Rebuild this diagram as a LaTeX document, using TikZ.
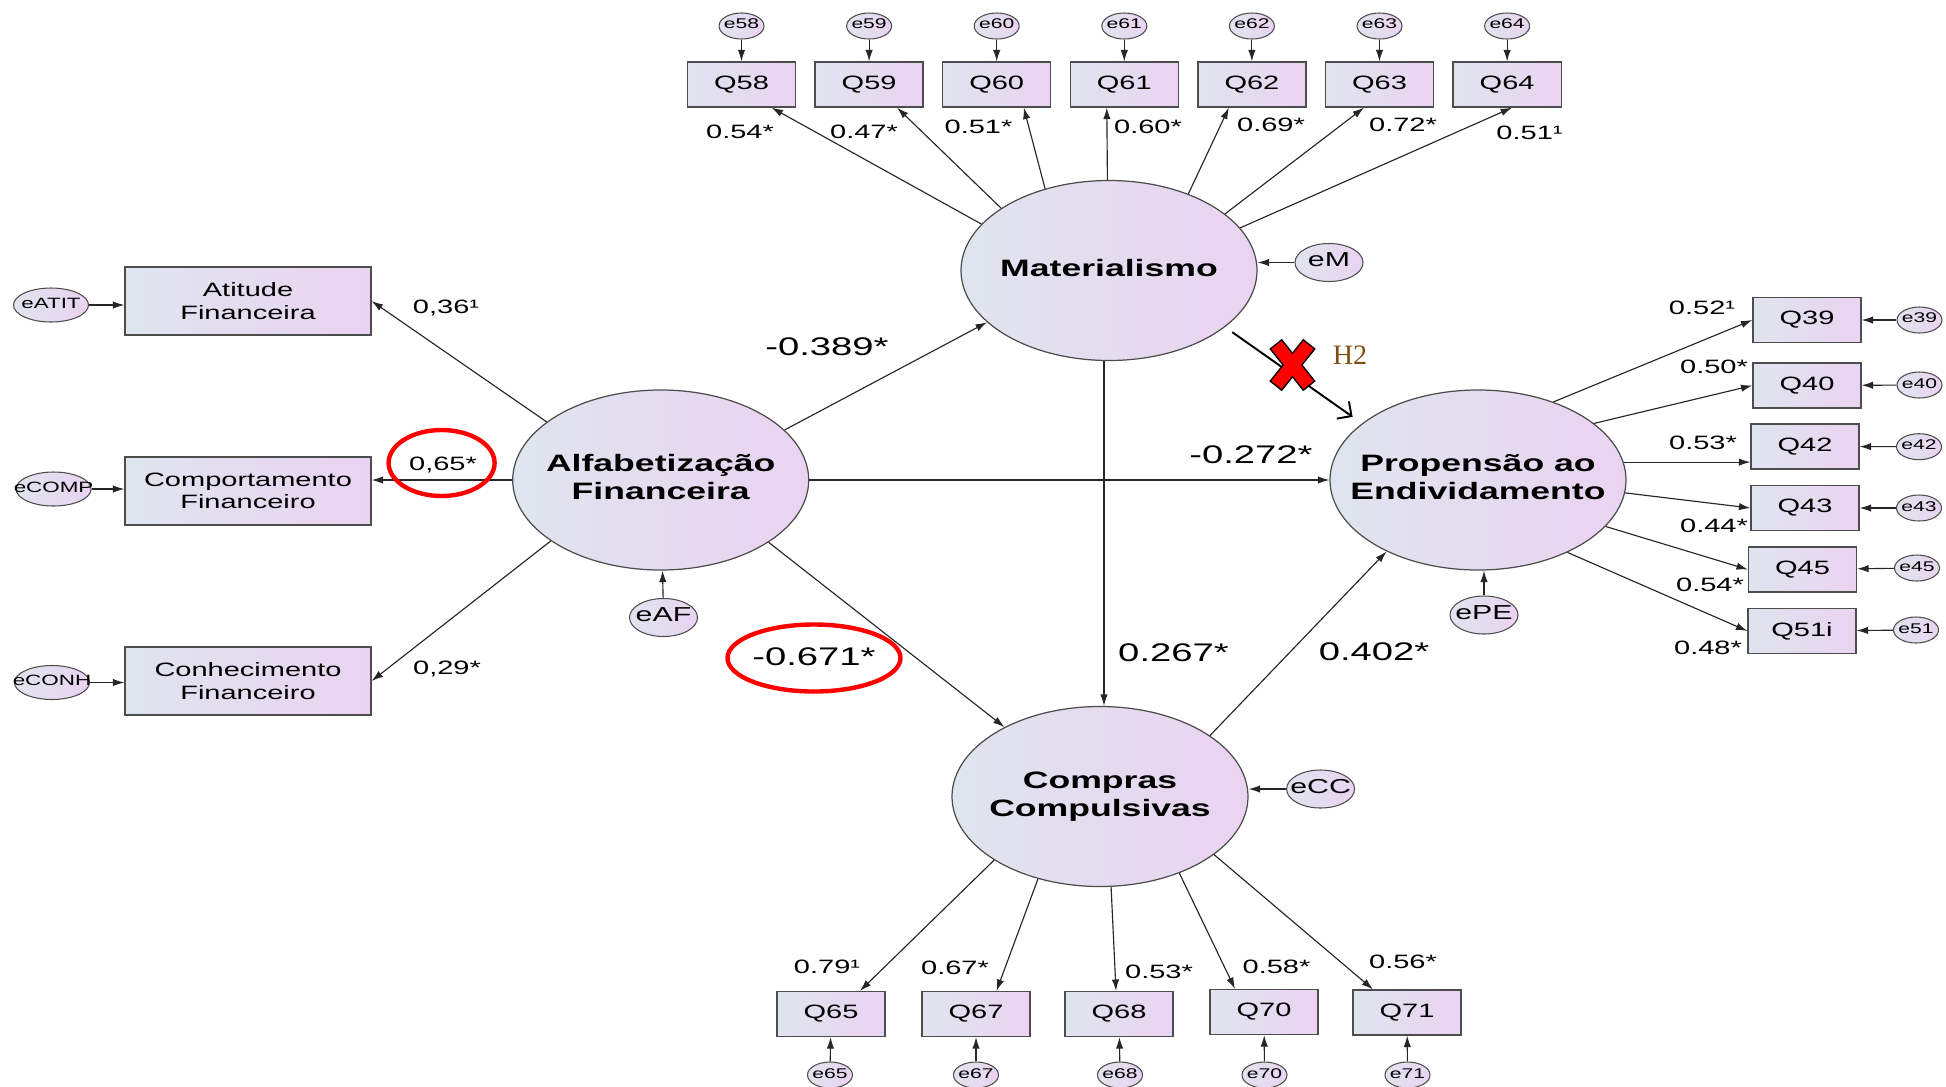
\documentclass[tikz,border=0pt]{standalone}
\usepackage{fontspec}
\setmainfont{Liberation Sans}[FakeStretch=1.5]
\newfontfamily\hfont{Liberation Serif}
\usepackage{tikz}
\usetikzlibrary{arrows.meta, shapes.geometric}

\definecolor{fillL}{HTML}{DFE5EE}
\definecolor{fillR}{HTML}{EAD3F1}
\definecolor{edge}{HTML}{4D4D4D}
\definecolor{htwo}{HTML}{7E4E14}

\newcommand{\ctr}[1]{\makebox[0pt]{\begin{tabular}{@{}c@{}}#1\end{tabular}}}

\begin{document}
\begin{tikzpicture}[x=0.2mm, y=-0.2mm,
  obs/.style={draw=edge, line width=0.7pt, left color=fillL, right color=fillR, minimum width=21.6mm, minimum height=9mm, inner sep=0pt, font=\fontsize{11}{12}\selectfont},
  ind/.style={obs, minimum width=49.2mm, minimum height=13.6mm, align=center, font=\fontsize{11}{12.7}\selectfont},
  lat/.style={ellipse, draw=edge, line width=0.7pt, left color=fillL, right color=fillR, minimum width=59.2mm, minimum height=36mm, inner sep=0pt, font=\bfseries\fontsize{13.5}{16}\selectfont},
  err/.style={ellipse, draw=edge, line width=0.6pt, left color=fillL, right color=fillR, minimum width=9mm, minimum height=5.2mm, inner sep=0pt, font=\fontsize{8}{8.5}\selectfont},
  errl/.style={err, minimum width=15mm, minimum height=6.8mm, font=\fontsize{8.5}{9}\selectfont},
  errm/.style={err, minimum width=13.6mm, minimum height=7.6mm, font=\fontsize{11.5}{12}\selectfont},
  link/.style={draw=black!85, line width=0.65pt, -{Latex[length=6.5pt,width=4.2pt]}},
  coef/.style={inner sep=0pt, font=\fontsize{11}{12}\selectfont},
  pcoef/.style={inner sep=0pt, font=\fontsize{14.5}{15}\selectfont},
  ring/.style={draw=red, line width=2.5pt}
]
\useasboundingbox (0,0) rectangle (1946,1086);

\node[lat] (Mat) at (1109,270.5) {\ctr{Materialismo}};
\node[lat] (AF) at (660.7,480) {\ctr{Alfabetização\\Financeira}};
\node[lat] (PE) at (1478,480) {\ctr{Propensão ao\\Endividamento}};
\node[lat] (CC) at (1100,796.5) {\ctr{Compras\\Compulsivas}};

\node[errm] (eM) at (1329,262.5) {\ctr{eM}};
\node[errm] (eAF) at (663.5,617.5) {\ctr{eAF}};
\node[errm] (ePE) at (1484,615) {\ctr{ePE}};
\node[errm] (eCC) at (1320.6,789) {\ctr{eCC}};

\node[obs] (Q58) at (741.5,84.5) {Q58};
\node[obs] (Q59) at (869.1,84.5) {Q59};
\node[obs] (Q60) at (996.7,84.5) {Q60};
\node[obs] (Q61) at (1124.3,84.5) {Q61};
\node[obs] (Q62) at (1251.9,84.5) {Q62};
\node[obs] (Q63) at (1379.5,84.5) {Q63};
\node[obs] (Q64) at (1507.1,84.5) {Q64};

\node[err] (e58) at (741.5,26) {\ctr{e58}};
\node[err] (e59) at (869.1,26) {\ctr{e59}};
\node[err] (e60) at (996.7,26) {\ctr{e60}};
\node[err] (e61) at (1124.3,26) {\ctr{e61}};
\node[err] (e62) at (1251.9,26) {\ctr{e62}};
\node[err] (e63) at (1379.5,26) {\ctr{e63}};
\node[err] (e64) at (1507.1,26) {\ctr{e64}};

\node[obs] (Q39) at (1807,320) {Q39};
\node[obs] (Q40) at (1807,385.5) {Q40};
\node[obs] (Q42) at (1805,446.5) {Q42};
\node[obs] (Q43) at (1805,508) {Q43};
\node[obs] (Q45) at (1802.5,569.5) {Q45};
\node[obs] (Q51) at (1802,631) {Q51i};

\node[err] (e39) at (1919.5,320) {\ctr{e39}};
\node[err] (e40) at (1919.5,385) {\ctr{e40}};
\node[err] (e42) at (1919,446.7) {\ctr{e42}};
\node[err] (e43) at (1919,508) {\ctr{e43}};
\node[err] (e45) at (1917,568) {\ctr{e45}};
\node[err] (e51) at (1916,630) {\ctr{e51}};

\node[obs] (Q65) at (831,1014) {Q65};
\node[obs] (Q67) at (976,1014) {Q67};
\node[obs] (Q68) at (1119,1014) {Q68};
\node[obs] (Q70) at (1264,1012) {Q70};
\node[obs] (Q71) at (1407,1012.5) {Q71};

\node[err] (e65) at (830,1075) {\ctr{e65}};
\node[err] (e67) at (976,1075) {\ctr{e67}};
\node[err] (e68) at (1120,1075) {\ctr{e68}};
\node[err] (e70) at (1264.5,1075) {\ctr{e70}};
\node[err] (e71) at (1407.5,1075) {\ctr{e71}};

\node[ind] (Atit) at (248,301) {Atitude\\Financeira};
\node[ind] (Comp) at (248,491) {Comportamento\\Financeiro};
\node[ind] (Conh) at (248,681) {Conhecimento\\Financeiro};

\node[errl] (eATIT) at (51,305) {\ctr{eATIT}};
\node[errl] (eCOMP) at (53.6,489) {\ctr{eCOMP}};
\node[errl] (eCONH) at (52,682.5) {\ctr{eCONH}};

\draw[link] (e58) -- (Q58);
\draw[link] (e59) -- (Q59);
\draw[link] (e60) -- (Q60);
\draw[link] (e61) -- (Q61);
\draw[link] (e62) -- (Q62);
\draw[link] (e63) -- (Q63);
\draw[link] (e64) -- (Q64);

\draw[link] (Mat.160.8) -- ([xshift=6mm]Q58.south);
\draw[link] (Mat.150) -- ([xshift=5.6mm]Q59.south);
\draw[link] (Mat.128.4) -- ([xshift=5.4mm]Q60.south);
\draw[link] (Mat.91.3) -- ([xshift=-3.5mm]Q61.south);
\draw[link] (Mat.44.9) -- ([xshift=-4.6mm]Q62.south);
\draw[link] (Mat.26.9) -- ([xshift=-3.1mm]Q63.south);
\draw[link] (Mat.18.4) -- ([xshift=1mm]Q64.south);

\draw[link] (e39) -- (Q39);
\draw[link] (e40) -- (Q40);
\draw[link] (e42) -- (Q42);
\draw[link] (e43) -- (Q43);
\draw[link] (e45) -- (Q45);
\draw[link] (e51) -- (Q51);

\draw[link] (PE.46.1) -- (Q39.west);
\draw[link] (PE.26.2) -- (Q40.west);
\draw[link] (PE.7.2) -- (PE.7.2 -| Q42.west);
\draw[link] (PE.-5.2) -- (Q43.west);
\draw[link] (PE.-20.4) -- (Q45.west);
\draw[link] (PE.-39.2) -- (Q51.west);

\draw[link] (e65) -- (Q65);
\draw[link] (e67) -- (Q67);
\draw[link] (e68) -- (Q68);
\draw[link] (e70) -- (Q70);
\draw[link] (e71) -- (Q71);

\draw[link] (CC.211.1) -- ([xshift=5.8mm]Q65.north);
\draw[link] (CC.233.3) -- ([xshift=4.1mm]Q67.north);
\draw[link] (CC.277.1) -- ([xshift=-0.6mm]Q68.north);
\draw[link] (CC.-44.9) -- ([xshift=-5.8mm]Q70.north);
\draw[link] (CC.-27.5) -- ([xshift=-6.8mm]Q71.north);

\draw[link] (eATIT.east) -- (eATIT.east -| Atit.west);
\draw[link] (eCOMP.east) -- (eCOMP.east -| Comp.west);
\draw[link] (eCONH.east) -- (eCONH.east -| Conh.west);

\draw[link] (AF.153.6) -- (Atit.east);
\draw[link] (AF.west) -- (AF.west -| Comp.east);
\draw[link] (AF.209.7) -- (Conh.east);

\draw[link] (eM.west) -- (eM.west -| Mat.east);
\draw[link] (eAF) -- (AF);
\draw[link] (ePE.north) -- (ePE.north |- PE.south);
\draw[link] (eCC.west) -- (eCC.west -| CC.east);

\draw[link] (AF.22.4) -- (Mat.203.9);
\draw[link] (AF.east) -- (PE.west);
\draw[link] (AF.-30) -- (CC.144.4);
\draw[link] ([xshift=-1mm]Mat.south) -- ([xshift=-1mm]Mat.south |- CC.north);
\draw[link] (CC.29.4) -- (PE.218);

\draw[black, line width=1.1pt, shorten <=5pt, shorten >=6.5pt, -{Straight Barb[length=6pt,width=12pt]}] (Mat.-26.7) -- (PE.154.7);
\draw[black, line width=3.2mm, shorten <=-0.3mm, shorten >=-0.3mm] (1276.5,345) -- (1308.5,385);
\draw[black, line width=3.2mm, shorten <=-0.3mm, shorten >=-0.3mm] (1308.5,345) -- (1276.5,385);
\draw[red, line width=2.6mm] (1276.5,345) -- (1308.5,385);
\draw[red, line width=2.6mm] (1308.5,345) -- (1276.5,385);
\node[text=htwo, font=\hfont\fontsize{16}{17}\selectfont] (h2) at (1350,355) {H2};

\node[coef] (l58) at (740,132) {0.54*};
\node[coef] (l59) at (864,132) {0.47*};
\node[coef] (l60) at (978.5,127) {0.51*};
\node[coef] (l61) at (1148,127) {0.60*};
\node[coef] (l62) at (1271,125) {0.69*};
\node[coef] (l63) at (1403,125) {0.72*};
\node[coef] (l64) at (1529.5,133) {0.51¹};

\node[coef] (l39) at (1702,308) {0.52¹};
\node[coef] (l40) at (1714,367) {0.50*};
\node[coef] (l42) at (1703,443) {0.53*};
\node[coef] (l43) at (1714,526) {0.44*};
\node[coef] (l45) at (1710,585) {0.54*};
\node[coef] (l51) at (1708,648) {0.48*};

\node[coef] (l65) at (827,966.7) {0.79¹};
\node[coef] (l67) at (955,968.3) {0.67*};
\node[coef] (l68) at (1159,971.7) {0.53*};
\node[coef] (l70) at (1276.5,966.7) {0.58*};
\node[coef] (l71) at (1403,961.7) {0.56*};

\node[coef] (lAtit) at (446,308) {0,36¹};
\node[coef] (lComp) at (443,465) {0,65*};
\node[coef] (lConh) at (447,669) {0,29*};

\node[pcoef] (bAM) at (827,346.5) {-0.389*};
\node[pcoef] (bAP) at (1251,455) {-0.272*};
\node[pcoef] (bAC) at (814,657) {-0.671*};
\node[pcoef] (bMC) at (1173.5,653) {0.267*};
\node[pcoef] (bCP) at (1374,651.7) {0.402*};

\draw[ring] (441.6,463) ellipse [x radius=10.6mm, y radius=6.6mm];
\draw[ring] (814,658) ellipse [x radius=17.3mm, y radius=6.7mm];
\end{tikzpicture}
\end{document}
